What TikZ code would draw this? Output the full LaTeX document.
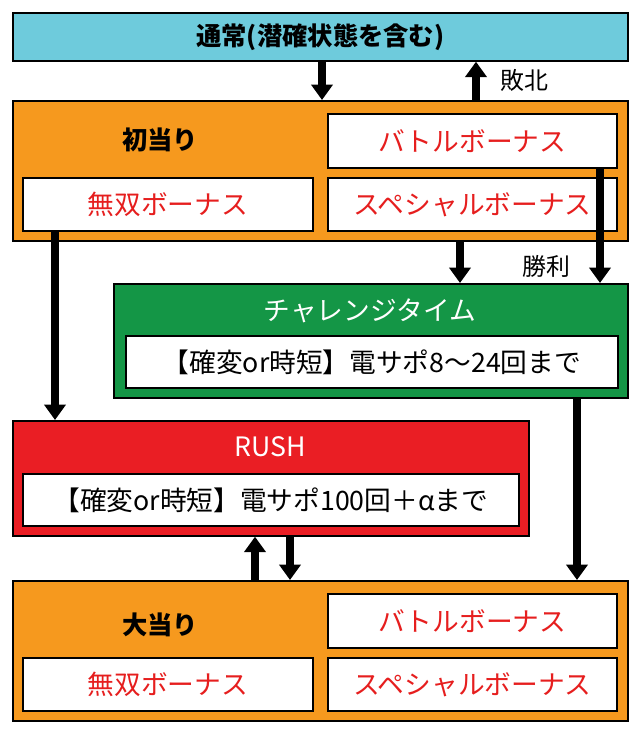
\documentclass[tikz,border=0pt]{standalone}
\usepackage{fontspec}
\setmainfont{Noto Sans CJK JP}
\usetikzlibrary{arrows.meta,positioning}
\definecolor{skyc}{RGB}{110,203,220}
\definecolor{orng}{RGB}{246,153,30}
\definecolor{grn}{RGB}{20,150,70}
\definecolor{redc}{RGB}{234,30,36}
\definecolor{txtred}{RGB}{230,30,30}
\tikzset{
  box/.style={draw=black,line width=1.2pt,anchor=north west,inner sep=0pt},
  wbox/.style={box,fill=white},
  lbl/.style={font=\fontsize{19}{19}\selectfont},
  ttl/.style={font=\bfseries\fontsize{18}{18}\selectfont},
  arr/.style={line width=5pt,-{Triangle[width=15pt,length=11pt]}}
}
\begin{document}
\begin{tikzpicture}[x=0.025cm,y=-0.025cm]
  \useasboundingbox (0,0) rectangle (640,732);
  % normal state
  \node[box,fill=skyc,minimum width=615*0.025cm,minimum height=48*0.025cm] (normal) at (12,12) {};
  \node[ttl] (normaltxt) at (normal.center) {通常(潜確状態を含む)};
  % first hit
  \node[box,fill=orng,minimum width=615*0.025cm,minimum height=140*0.025cm] (first) at (12,100) {};
  \node[ttl] (firsttxt) at (160,140) {初当り};
  \node[wbox,minimum width=289*0.025cm,minimum height=54*0.025cm] (battle1) at (327,113) {};
  \node[lbl,text=txtred] at (battle1.center) {バトルボーナス};
  \node[wbox,minimum width=290*0.025cm,minimum height=53*0.025cm] (muso1) at (22,177) {};
  \node[lbl,text=txtred] at (muso1.center) {無双ボーナス};
  \node[wbox,minimum width=289*0.025cm,minimum height=53*0.025cm] (special1) at (327,177) {};
  \node[lbl,text=txtred] at (special1.center) {スペシャルボーナス};
  % challenge time
  \node[box,fill=grn,minimum width=514*0.025cm,minimum height=114*0.025cm] (chal) at (113,283) {};
  \node[lbl,text=white] (chaltxt) at (370,311) {チャレンジタイム};
  \node[wbox,minimum width=492*0.025cm,minimum height=52*0.025cm] (chalin) at (125,335) {};
  \node[lbl] at (chalin.center) {【確変or時短】電サポ8～24回まで};
  % rush
  \node[box,fill=redc,minimum width=516*0.025cm,minimum height=115*0.025cm] (rush) at (12,420) {};
  \node[lbl,text=white] (rushtxt) at (270,447) {RUSH};
  \node[wbox,minimum width=496*0.025cm,minimum height=52*0.025cm] (rushin) at (22,473) {};
  \node[lbl] at (rushin.center) {【確変or時短】電サポ100回＋αまで};
  % big hit
  \node[box,fill=orng,minimum width=615*0.025cm,minimum height=140*0.025cm] (big) at (12,580) {};
  \node[ttl] (bigtxt) at (160,625) {大当り};
  \node[wbox,minimum width=289*0.025cm,minimum height=54*0.025cm] (battle2) at (327,593) {};
  \node[lbl,text=txtred] at (battle2.center) {バトルボーナス};
  \node[wbox,minimum width=290*0.025cm,minimum height=53*0.025cm] (muso2) at (22,657) {};
  \node[lbl,text=txtred] at (muso2.center) {無双ボーナス};
  \node[wbox,minimum width=289*0.025cm,minimum height=53*0.025cm] (special2) at (327,657) {};
  \node[lbl,text=txtred] at (special2.center) {スペシャルボーナス};
  % arrows
  \draw[arr] (normal.south -| 322,0) -- (first.north -| 322,0);
  \draw[arr] (first.north -| 476,0) -- (normal.south -| 476,0);
  \node[font=\fontsize{17}{17}\selectfont] (lose) at (524,80) {敗北};
  \draw[arr] (first.south -| 460,0) -- (chal.north -| 460,0);
  \draw[arr] (battle1.south -| 600,0) -- (chal.north -| 600,0);
  \node[font=\fontsize{17}{17}\selectfont] (win) at (546,266) {勝利};
  \draw[arr] (muso1.south -| 55,0) -- (rush.north -| 55,0);
  \draw[arr] (chal.south -| 577,0) -- (big.north -| 577,0);
  \draw[arr] (big.north -| 255,0) -- (rush.south -| 255,0);
  \draw[arr] (rush.south -| 290,0) -- (big.north -| 290,0);
\end{tikzpicture}
\end{document}
